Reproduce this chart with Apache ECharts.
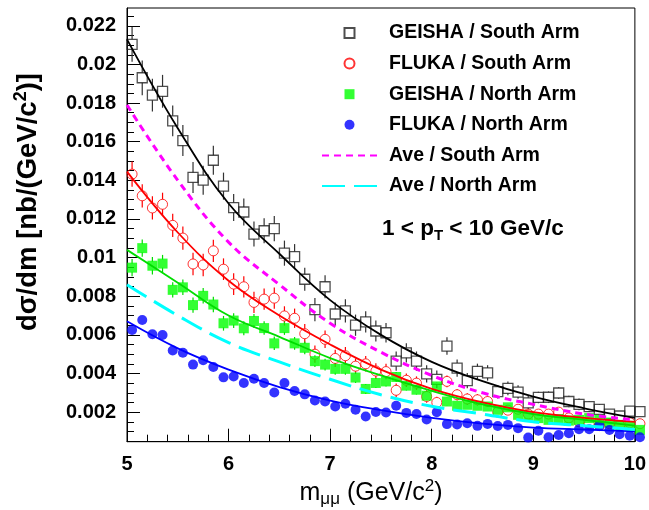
<!DOCTYPE html>
<html>
<head>
<meta charset="utf-8">
<script src="https://cdn.jsdelivr.net/npm/echarts@6/dist/echarts.min.js"></script>
<style>
html,body{margin:0;padding:0;background:#fff;}
#main{width:649px;height:510px;}
</style>
</head>
<body>
<div id="main"></div>
<script>
// ---- data ----
const binCenters = [5.05,5.15,5.25,5.35,5.45,5.55,5.65,5.75,5.85,5.95,
  6.05,6.15,6.25,6.35,6.45,6.55,6.65,6.75,6.85,6.95,
  7.05,7.15,7.25,7.35,7.45,7.55,7.65,7.75,7.85,7.95,
  8.05,8.15,8.25,8.35,8.45,8.55,8.65,8.75,8.85,8.95,
  9.05,9.15,9.25,9.35,9.45,9.55,9.65,9.75,9.85,9.95,10.05];

const geishaSouth = [0.02104,0.01931,0.01841,0.01861,0.01708,0.01606,0.01415,0.01401,0.01504,0.01370,
  0.01259,0.01236,0.01122,0.01139,0.01150,0.01023,0.01005,0.00888,0.00731,0.00849,
  0.00708,0.00724,0.00650,0.00667,0.00620,0.00611,0.00464,0.00507,0.00464,0.00398,
  0.00370,0.00542,0.00428,0.00363,0.00411,0.00403,0.00306,0.00323,0.00304,0.00248,
  0.00276,0.00277,0.00299,0.00255,0.00240,0.00229,0.00214,0.00190,0.00180,0.00205,0.00203];
const geishaSouthErr = [0.0009,0.0009,0.00085,0.00085,0.0008,0.0008,0.0008,0.00075,0.00075,0.0007,
  0.0007,0.0007,0.00065,0.00065,0.00065,0.00065,0.00065,0.0006,0.0006,0.0006,
  0.0006,0.0006,0.00055,0.00055,0.00055,0.0005,0.0005,0.0005,0.0005,0.00045,
  0.00045,0.00045,0.00045,0.0004,0.0004,0.0004,0.00035,0.00035,0.00035,0.00035,
  0.0003,0.0003,0.0003,0.0003,0.0003,0.00028,0.00028,0.00026,0.00026,0.00025,0.00025];

const flukaSouth = [0.01432,0.01320,0.01257,0.01276,0.01167,0.01101,0.00967,0.00962,0.01035,0.00940,
  0.00863,0.00849,0.00768,0.00785,0.00790,0.00698,0.00686,0.00606,0.00500,0.00577,
  0.00478,0.00492,0.00438,0.00450,0.00413,0.00410,0.00313,0.00365,0.00350,0.00281,
  0.00250,0.00359,0.00290,0.00268,0.00264,0.00255,0.00200,0.00210,0.00215,0.00190,
  0.00190,0.00190,0.00200,0.00170,0.00150,0.00140,0.00130,0.00140,0.00130,0.00145,0.00140];
const flukaSouthErr = [0.00065,0.0006,0.0006,0.0006,0.0006,0.0006,0.00058,0.00058,0.00058,0.00056,
  0.00056,0.00055,0.00055,0.00055,0.00055,0.0005,0.0005,0.0005,0.00045,0.00045,
  0.00045,0.00045,0.0004,0.0004,0.0004,0.0004,0.00035,0.00035,0.00035,0.00032,
  0.0003,0.0003,0.0003,0.0003,0.0003,0.00028,0.00025,0.00025,0.00025,0.00025,
  0.00022,0.00022,0.00022,0.0002,0.0002,0.0002,0.0002,0.0002,0.0002,0.0002,0.0002];

const geishaNorth = [0.00948,0.01049,0.00958,0.00969,0.00833,0.00846,0.00754,0.00802,0.00757,0.00660,
  0.00674,0.00634,0.00672,0.00635,0.00556,0.00635,0.00556,0.00533,0.00464,0.00446,
  0.00424,0.00424,0.00379,0.00320,0.00351,0.00359,0.00382,0.00337,0.00316,0.00285,
  0.00333,0.00255,0.00233,0.00238,0.00233,0.00229,0.00212,0.00225,0.00186,0.00181,
  0.00169,0.00160,0.00164,0.00156,0.00160,0.00169,0.00160,0.00146,0.00134,0.00129,0.00108];
const geishaNorthErr = [0.00045,0.00045,0.00045,0.00045,0.0004,0.0004,0.0004,0.0004,0.0004,0.00038,
  0.00038,0.00036,0.00036,0.00035,0.00035,0.00035,0.00033,0.00033,0.0003,0.0003,
  0.0003,0.0003,0.00028,0.00026,0.00026,0.00026,0.00026,0.00025,0.00025,0.00023,
  0.00023,0.00022,0.0002,0.0002,0.0002,0.0002,0.0002,0.0002,0.00018,0.00018,
  0.00017,0.00017,0.00017,0.00016,0.00016,0.00016,0.00016,0.00015,0.00015,0.00015,0.00014];

const flukaNorth = [0.00625,0.00677,0.00603,0.00599,0.00519,0.00507,0.00446,0.00469,0.00434,0.00380,
  0.00384,0.00351,0.00373,0.00351,0.00302,0.00351,0.00309,0.00292,0.00260,0.00255,
  0.00229,0.00243,0.00212,0.00177,0.00201,0.00198,0.00233,0.00196,0.00190,0.00162,
  0.00200,0.00138,0.00136,0.00142,0.00129,0.00139,0.00128,0.00134,0.00117,0.00068,
  0.00104,0.00070,0.00082,0.00091,0.00111,0.00111,0.00130,0.00108,0.00086,0.00078,0.00070];

// fitted curves
const curveX = [5,5.5,6,6.5,7,7.5,8,8.5,9,9.5,10];
const fitGeishaSouth = [0.0213,0.0167,0.0128,0.0102,0.0078,0.0060,0.0046,0.0036,0.0028,0.0022,0.0017];
const fitFlukaSouth  = [0.01445,0.0113,0.0088,0.0070,0.0055,0.0042,0.0032,0.0025,0.0020,0.0017,0.0015];
const aveSouth       = [0.0179,0.0140,0.0108,0.0086,0.0066,0.0051,0.0039,0.0030,0.0024,0.0019,0.0016];
const fitGeishaNorth = [0.0104,0.0087,0.0070,0.0059,0.0048,0.0039,0.0031,0.0024,0.0019,0.0016,0.0013];
const fitFlukaNorth  = [0.0067,0.0053,0.0042,0.0033,0.0026,0.0021,0.0017,0.0014,0.0012,0.0011,0.0010];
const aveNorth       = [0.0086,0.0070,0.0056,0.0046,0.0037,0.0029,0.0023,0.0019,0.0015,0.0013,0.0011];

const yTickValues = [0.002,0.004,0.006,0.008,0.010,0.012,0.014,0.016,0.018,0.020,0.022];
const xTickValues = [5,6,7,8,9,10];
const legendNames = ['GEISHA / South Arm','FLUKA / South Arm','GEISHA / North Arm','FLUKA / North Arm','Ave / South Arm','Ave / North Arm'];

// ---- build ----
const FONT = 'Liberation Sans';
const yMin = 0.000469, yMax = 0.022922;
const yMinorTicks = [];
for (let k = 1; k <= 45; k++) yMinorTicks.push(+(k * 0.0005).toFixed(4));

const SQUARE = 'path://M0,0L10,0L10,10L0,10Z';
const CIRCLE = 'path://M5,0A5,5,0,1,1,5,10A5,5,0,1,1,5,0Z';

function pts(ys) { return binCenters.map((x, i) => [x, ys[i]]); }
function errPts(ys, es) { return binCenters.map((x, i) => [x, ys[i], es[i]]); }
function curve(ys) { return curveX.map((x, i) => [x, ys[i]]); }

function errSeries(ys, es, color, gap, z) {
  return {
    type: 'custom', z: z, silent: true, clip: false,
    data: errPts(ys, es),
    encode: { x: 0, y: 1 },
    renderItem: function (params, api) {
      const x = api.value(0), y = api.value(1), e = api.value(2);
      const c = api.coord([x, y]);
      const top = api.coord([x, y + e]);
      const bot = api.coord([x, y - e]);
      const children = [];
      if (c[1] - gap > top[1]) children.push({ type: 'line', shape: { x1: c[0], y1: top[1], x2: c[0], y2: c[1] - gap }, style: { stroke: color, lineWidth: 1.2 } });
      if (bot[1] > c[1] + gap) children.push({ type: 'line', shape: { x1: c[0], y1: c[1] + gap, x2: c[0], y2: bot[1] }, style: { stroke: color, lineWidth: 1.2 } });
      return { type: 'group', children: children };
    }
  };
}

function fitLine(name, ys, color, width, dash, z) {
  return {
    name: name, type: 'line', data: curve(ys), smooth: 0.4, symbol: 'none', z: z, silent: true,
    lineStyle: { color: color, width: width, type: dash || 'solid' },
    itemStyle: { color: color }
  };
}

const chart = echarts.init(document.getElementById('main'), null, { renderer: 'canvas' });

const hidden = { color: 'rgba(0,0,0,0)', borderColor: 'rgba(0,0,0,0)', borderWidth: 0 };

const option = {
  animation: false,
  backgroundColor: '#fff',
  grid: { left: 127, right: 10.5, top: 8, bottom: 68.3, show: true, borderColor: '#000', borderWidth: 1, backgroundColor: 'transparent' },
  xAxis: {
    type: 'value', min: 5, max: 10, interval: 1,
    axisLine: { show: true, lineStyle: { color: '#000', width: 1 } },
    axisTick: { show: true, inside: true, length: 13, lineStyle: { color: '#000' } },
    minorTick: { show: true, splitNumber: 5, length: 7, lineStyle: { color: '#000' } },
    splitLine: { show: false },
    axisLabel: { show: true, margin: 13, color: '#000', fontSize: 20, fontWeight: 'bold', fontFamily: FONT,
      customValues: xTickValues }
  },
  yAxis: [{
    type: 'value', min: yMin, max: yMax,
    axisLine: { show: true, lineStyle: { color: '#000', width: 1 } },
    axisTick: { show: true, inside: true, length: 13, lineStyle: { color: '#000' }, customValues: yTickValues },
    splitLine: { show: false },
    axisLabel: { show: true, margin: 11, color: '#000', fontSize: 20, fontWeight: 'bold', fontFamily: FONT,
      customValues: yTickValues,
      formatter: function (v) { return String(+v.toFixed(3)); } }
  }, {
    type: 'value', min: yMin, max: yMax, position: 'left',
    axisLine: { show: false },
    axisTick: { show: true, inside: true, length: 7, lineStyle: { color: '#000' }, customValues: yMinorTicks },
    splitLine: { show: false },
    axisLabel: { show: false }
  }],
  legend: {
    orient: 'vertical', left: 316, top: 18, itemWidth: 55, itemHeight: 10, itemGap: 10.6,
    selectedMode: false, symbolKeepAspect: true,
    textStyle: { fontSize: 19.5, fontWeight: 'bold', fontFamily: FONT, color: '#000', padding: [0, 0, 0, 7] },
    data: [
      { name: legendNames[0], icon: SQUARE },
      { name: legendNames[1], icon: CIRCLE },
      { name: legendNames[2], icon: SQUARE },
      { name: legendNames[3], icon: CIRCLE },
      { name: legendNames[4], itemStyle: hidden },
      { name: legendNames[5], itemStyle: hidden }
    ]
  },
  series: [
    errSeries(geishaSouth, geishaSouthErr, '#333', 5, 2),
    { name: legendNames[0], type: 'scatter', data: pts(geishaSouth), symbol: 'rect', symbolSize: 10, z: 3, clip: false,
      itemStyle: { color: 'rgba(255,255,255,0)', borderColor: '#222', borderWidth: 1.3 } },
    errSeries(flukaSouth, flukaSouthErr, '#ff0000', 5, 2),
    { name: legendNames[1], type: 'scatter', data: pts(flukaSouth), symbol: 'circle', symbolSize: 10, z: 3, clip: false,
      itemStyle: { color: 'rgba(255,255,255,0)', borderColor: '#ff0000', borderWidth: 1 } },
    errSeries(geishaNorth, geishaNorthErr, '#00dd00', 4, 2),
    { name: legendNames[2], type: 'scatter', data: pts(geishaNorth), symbol: 'rect', symbolSize: 10, z: 3, clip: false,
      itemStyle: { color: '#00ff00' } },
    { name: legendNames[3], type: 'scatter', data: pts(flukaNorth), symbol: 'circle', symbolSize: 10, z: 3, clip: false,
      itemStyle: { color: '#0000ff' } },
    fitLine('fitGS', fitGeishaSouth, '#000000', 1.8, null, 4),
    fitLine('fitFS', fitFlukaSouth, '#ff0000', 1.8, null, 4),
    fitLine('fitGN', fitGeishaNorth, '#00dd00', 1.8, null, 4),
    fitLine('fitFN', fitFlukaNorth, '#0000ff', 1.8, null, 4),
    fitLine(legendNames[4], aveSouth, '#ff00ff', 3, [7, 5], 5),
    fitLine(legendNames[5], aveNorth, '#00ffff', 3, [23, 9], 5)
  ],
  graphic: [
    { type: 'text', left: 382, top: 217, z: 10,
      style: { text: '1 < p{sub|T} < 10 GeV/c', fill: '#000', font: 'bold 22.5px "Liberation Sans"',
        rich: { sub: { fontSize: 15, fontWeight: 'bold', fontFamily: FONT, fill: '#000', padding: [15, 0, 0, 0] } } } },
    { type: 'text', x: 28, y: 202, rotation: Math.PI / 2, z: 10,
      style: { text: 'dσ/dm [nb/(GeV/c{sup|2})]', fill: '#000', font: 'bold 27.5px "Liberation Sans"', align: 'center', verticalAlign: 'middle',
        rich: { sup: { fontSize: 18, fontWeight: 'bold', fontFamily: FONT, fill: '#000', padding: [0, 0, 13, 0] } } } },
    { type: 'text', x: 371, y: 493, z: 10,
      style: { text: 'm{sub|μμ} (GeV/c{sup|2})', fill: '#000', font: '25px "Liberation Sans"', align: 'center', verticalAlign: 'middle',
        rich: { sub: { fontSize: 17, fontFamily: FONT, fill: '#000', padding: [13, 0, 0, 0] },
                sup: { fontSize: 17, fontFamily: FONT, fill: '#000', padding: [0, 0, 13, 0] } } } }
  ]
};
chart.setOption(option);
</script>
</body>
</html>
